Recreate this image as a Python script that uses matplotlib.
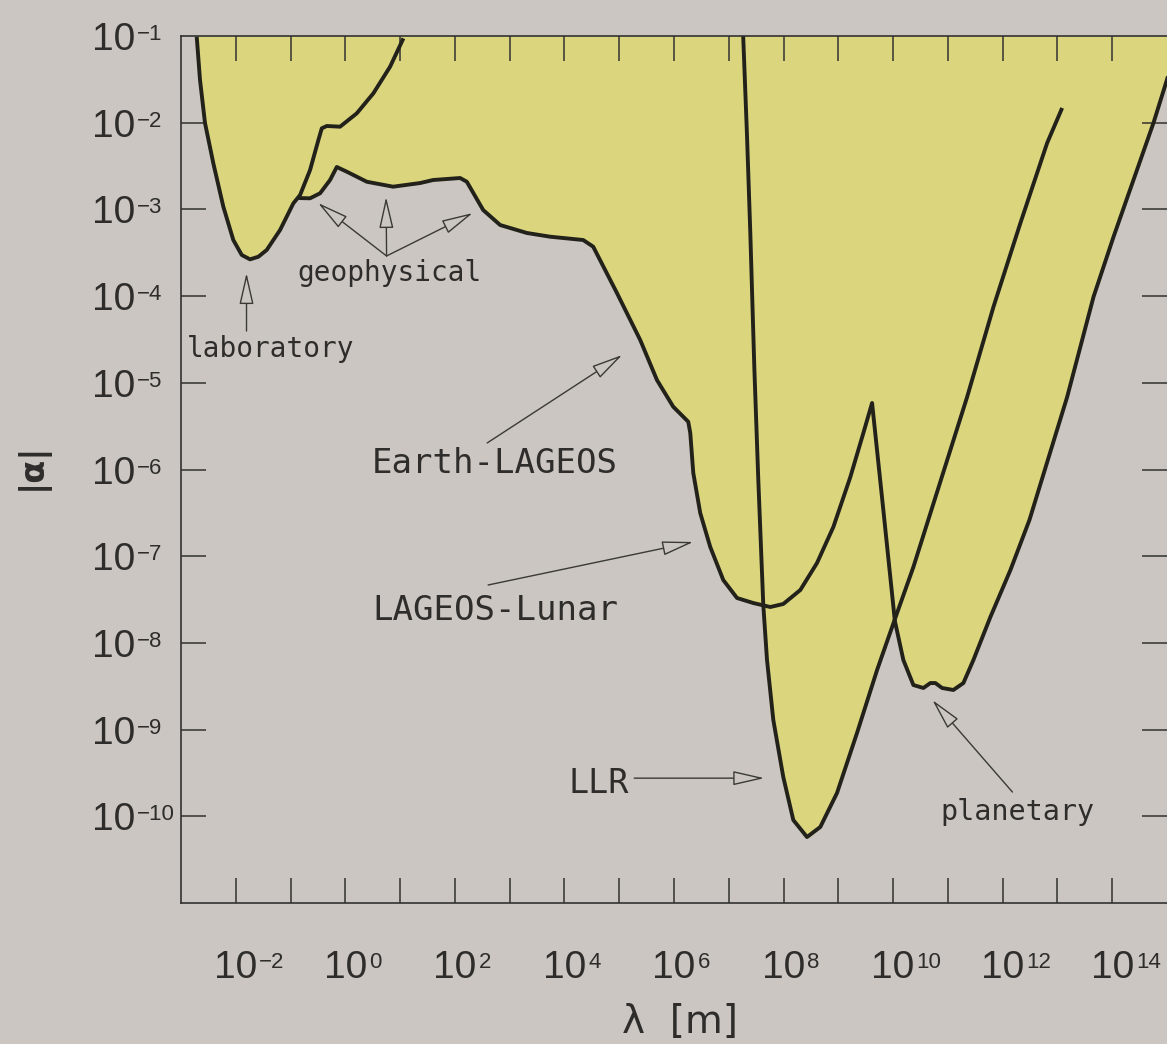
import matplotlib
matplotlib.use("Agg")
import numpy as np
import matplotlib.pyplot as plt
from matplotlib.ticker import FixedLocator, NullLocator, NullFormatter
from matplotlib.transforms import blended_transform_factory

# ---------------------------------------------------------------------------
# Bounds on a Yukawa-type deviation from Newtonian gravity:
# |alpha| excluded above each curve, as a function of range lambda [m].
# All values are log10.
# ---------------------------------------------------------------------------

# laboratory (torsion balance) bound
lab_log_lambda = [-2.713, -2.653, -2.562, -2.410, -2.227, -2.045, -1.891, -1.740,
                  -1.588, -1.435, -1.192, -0.949, -0.826, -0.644, -0.492, -0.430,
                  -0.339, -0.096, 0.209, 0.512, 0.817, 1.060]
lab_log_alpha = [-1.008, -1.507, -2.003, -2.468, -2.969, -3.353, -3.526, -3.576,
                 -3.546, -3.468, -3.238, -2.930, -2.834, -2.546, -2.200, -2.065,
                 -2.038, -2.046, -1.892, -1.661, -1.354, -1.027]

# geophysical -> Earth-LAGEOS -> LAGEOS-Lunar -> planetary envelope
env_log_lambda = [-0.858, -0.644, -0.461, -0.279, -0.156, 0.026, 0.392, 0.872,
                  1.365, 1.603, 2.096, 2.218, 2.516, 2.826, 3.314, 3.740,
                  4.342, 4.525, 4.958, 5.383, 5.689, 5.986, 6.260, 6.297,
                  6.352, 6.479, 6.662, 6.900, 7.150, 7.447, 7.758, 7.995,
                  8.306, 8.611, 8.909, 9.219, 9.457, 9.616, 9.822, 10.032,
                  10.187, 10.370, 10.553, 10.680, 10.772, 10.894, 11.100, 11.283,
                  11.466, 11.776, 12.142, 12.489, 13.177, 13.658, 14.023, 14.753,
                  15.100]
env_log_alpha = [-2.869, -2.872, -2.814, -2.661, -2.511, -2.565, -2.681, -2.738,
                 -2.696, -2.661, -2.638, -2.681, -3.007, -3.180, -3.272, -3.315,
                 -3.353, -3.430, -3.964, -4.506, -4.968, -5.276, -5.449, -5.579,
                 -6.040, -6.502, -6.894, -7.275, -7.482, -7.540, -7.586, -7.551,
                 -7.390, -7.078, -6.663, -6.087, -5.579, -5.233, -6.470, -7.747,
                 -8.197, -8.486, -8.520, -8.463, -8.463, -8.520, -8.543, -8.463,
                 -8.197, -7.701, -7.159, -6.582, -5.164, -4.010, -3.318, -2.003,
                 -1.300]

# lunar laser ranging bound
llr_log_lambda = [7.263, 7.331, 7.393, 7.466, 7.539, 7.630, 7.698, 7.813, 7.995,
                  8.178, 8.428, 8.671, 8.976, 9.341, 9.707, 10.014, 10.370,
                  11.351, 11.831, 12.324, 12.812, 13.086]
llr_log_alpha = [-1.000, -2.119, -3.272, -4.818, -6.121, -7.563, -8.197, -8.889,
                 -9.547, -10.043, -10.239, -10.123, -9.731, -9.039, -8.313, -7.759,
                 -7.125, -5.164, -4.126, -3.157, -2.234, -1.830]

x_label_exponents = list(range(-2, 15, 2))
y_label_exponents = list(range(-10, 0))

BG = "#cbc6c1"
YELLOW = "#dbd67e"
CURVE = "#23221a"
INK = "#2e2d2b"
NUMFONT = ["Liberation Sans", "DejaVu Sans"]
MONO = ["DejaVu Sans Mono"]

fig = plt.figure(figsize=(11.67, 10.44), dpi=100, facecolor=BG)
ax = fig.add_axes([181 / 1167, 1 - 903 / 1044, 986 / 1167, 867 / 1044])
ax.set_facecolor("none")
ax.set_xscale("log")
ax.set_yscale("log")
ax.set_xlim(1e-3, 1e15)
ax.set_ylim(1e-11, 1e-1)
top = 1e-1

bounds = [(lab_log_lambda, lab_log_alpha),
          (env_log_lambda, env_log_alpha),
          (llr_log_lambda, llr_log_alpha)]

# excluded regions (union of the areas above each bound)
for lx, la in bounds:
    ax.fill_between(10.0 ** np.asarray(lx), 10.0 ** np.asarray(la), top,
                    color=YELLOW, lw=0, zorder=1)

for lx, la in bounds:
    ax.plot(10.0 ** np.asarray(lx), 10.0 ** np.asarray(la), color=CURVE,
            lw=2.8, solid_joinstyle="round", solid_capstyle="butt", zorder=3)

# axes frame and ticks
for side in ("left", "top", "bottom"):
    ax.spines[side].set_color("#333230")
    ax.spines[side].set_linewidth(1.2)
    ax.spines[side].set_zorder(4)
ax.spines["right"].set_visible(False)

ax.xaxis.set_major_locator(FixedLocator(10.0 ** np.arange(-2, 15)))
ax.yaxis.set_major_locator(FixedLocator(10.0 ** np.arange(-10, -1)))
ax.xaxis.set_minor_locator(NullLocator())
ax.yaxis.set_minor_locator(NullLocator())
ax.xaxis.set_major_formatter(NullFormatter())
ax.yaxis.set_major_formatter(NullFormatter())
ax.tick_params(which="major", direction="in", length=18, width=1.1,
               color="#333230", top=True, right=True, bottom=True, left=True)


def power_label(x, y, exponent, transform, ha):
    base = ax.text(x, y, "10", transform=transform, ha=ha,
                   va="center_baseline", fontsize=28, family=NUMFONT, color=INK)
    ax.annotate(str(exponent).replace("-", "\u2212"), xy=(1, 1), xycoords=base,
                xytext=(2, -2), textcoords="offset pixels", ha="left", va="top",
                fontsize=16, family=NUMFONT, color=INK)


xt = blended_transform_factory(ax.transData, ax.transAxes)
for e in x_label_exponents:
    power_label(10.0 ** e, -0.0698, e, xt, "center")

yt = blended_transform_factory(ax.transAxes, ax.transData)
for e in [-1] + y_label_exponents[:-1]:
    power_label(-0.0903, 10.0 ** e, e, yt, "left")

fig.text(31.5 / 1167, 1 - 466 / 1044, "|\u03b1|", rotation=90, ha="center",
         va="center", fontsize=24, fontweight="bold", family="DejaVu Sans",
         color=INK)
fig.text(680 / 1167, 1 - 1022 / 1044, "\u03bb  [m]", ha="center", va="center",
         fontsize=28, family="DejaVu Sans", color=INK)

# labels with hollow-headed pointers
arrow_kw = dict(arrowstyle="-|>,head_length=1.4,head_width=0.32",
                fc=BG, ec="#3a3936", lw=1.0, shrinkA=0, shrinkB=0,
                mutation_scale=14)


def pointer(tail, tip):
    ax.annotate("", xy=(10 ** tip[0], 10 ** tip[1]),
                xytext=(10 ** tail[0], 10 ** tail[1]),
                arrowprops=arrow_kw, zorder=5)


def label(pos, text, size):
    ax.text(10 ** pos[0], 10 ** pos[1], text, ha="left", va="baseline",
            fontsize=size, family=MONO, color=INK, zorder=5)


label((-2.890, -4.702), "laboratory", 20)
pointer((-1.804, -4.403), (-1.804, -3.734))

label((-0.881, -3.826), "geophysical", 20)
for tip in [(-0.498, -2.926), (0.744, -2.857), (2.326, -3.042)]:
    pointer((0.753, -3.537), tip)

label((0.489, -6.040), "Earth-LAGEOS", 24.5)
pointer((2.589, -5.694), (5.055, -4.679))

label((0.489, -7.736), "LAGEOS-Lunar", 24.5)
pointer((2.607, -7.332), (6.352, -6.836))

label((4.068, -9.731), "LLR", 24)
pointer((5.274, -9.56), (7.648, -9.56))

label((10.863, -10.043), "planetary", 20.5)
pointer((12.178, -9.720), (10.717, -8.659))

fig.savefig("out.png", dpi=100, facecolor=BG)
